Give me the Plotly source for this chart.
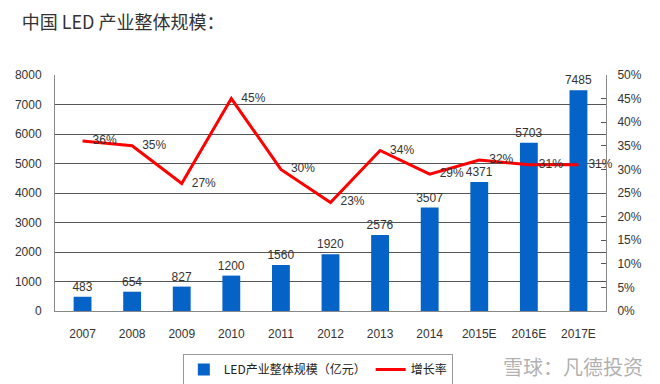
import plotly.graph_objects as go

years = ["2007", "2008", "2009", "2010", "2011", "2012", "2013", "2014", "2015E", "2016E", "2017E"]
scale = [483, 654, 827, 1200, 1560, 1920, 2576, 3507, 4371, 5703, 7485]
growth = [0.36, 0.35, 0.27, 0.45, 0.30, 0.23, 0.34, 0.29, 0.32, 0.31, 0.31]
growth_labels = ["36%", "35%", "27%", "45%", "30%", "23%", "34%", "29%", "32%", "31%", "31%"]

num_font = dict(family="Liberation Sans, Arial, sans-serif", size=12, color="#333333")

fig = go.Figure()
fig.add_trace(go.Bar(
    x=years, y=scale, name="LED产业整体规模（亿元）",
    marker=dict(color="#0563C8", line=dict(width=0)),
    text=[str(v) for v in scale], textposition="outside", constraintext="none",
    textfont=num_font, cliponaxis=False, width=0.36,
))
fig.add_trace(go.Scatter(
    x=years, y=growth, name="增长率", yaxis="y2", mode="lines+text",
    line=dict(color="#FF0000", width=3),
    text=["   " + t for t in growth_labels], textposition="middle right", textfont=num_font,
    cliponaxis=False,
))

fig.update_layout(
    width=652, height=376,
    margin=dict(l=47, r=54, t=67, b=73, autoexpand=False),
    paper_bgcolor="white", plot_bgcolor="white",
    font=dict(family="Noto Sans CJK SC, sans-serif", size=12, color="#333333"),
    title=dict(text="中国 LED 产业整体规模：", x=0.021, xanchor="left", y=0.978, yanchor="top",
               font=dict(family="Noto Sans CJK SC, sans-serif", size=18, color="#333333")),
    xaxis=dict(showgrid=False, showline=True, linecolor="#888888", linewidth=1,
               ticks="", tickfont=num_font, ticklabelstandoff=12),
    yaxis=dict(range=[0, 8000], dtick=1000, showgrid=True, gridcolor="#555555", gridwidth=1,
               showline=True, linecolor="#888888", linewidth=1, ticks="", tickfont=num_font,
               zeroline=False, ticklabelstandoff=10),
    yaxis2=dict(range=[0, 0.5], dtick=0.05, tickformat=".0%", overlaying="y", side="right",
                showgrid=False, showline=True, linecolor="#888888", linewidth=1,
                ticks="inside", ticklen=5, tickcolor="#555555", tickfont=num_font,
                zeroline=False, ticklabelstandoff=8),
    legend=dict(orientation="h", x=0.232, xanchor="left", y=-0.182, yanchor="top",
                bordercolor="#999999", borderwidth=1, font=dict(size=12, color="#222222"),
                itemwidth=30),
    showlegend=True,
)
fig.add_annotation(text="雪球：凡德投资", xref="paper", yref="paper", x=1.07, xanchor="right",
                   y=-0.237, yanchor="middle", showarrow=False,
                   font=dict(family="Noto Sans CJK SC, sans-serif", size=20, color="rgba(150,150,150,0.75)"))

fig.write_html("out.html")
